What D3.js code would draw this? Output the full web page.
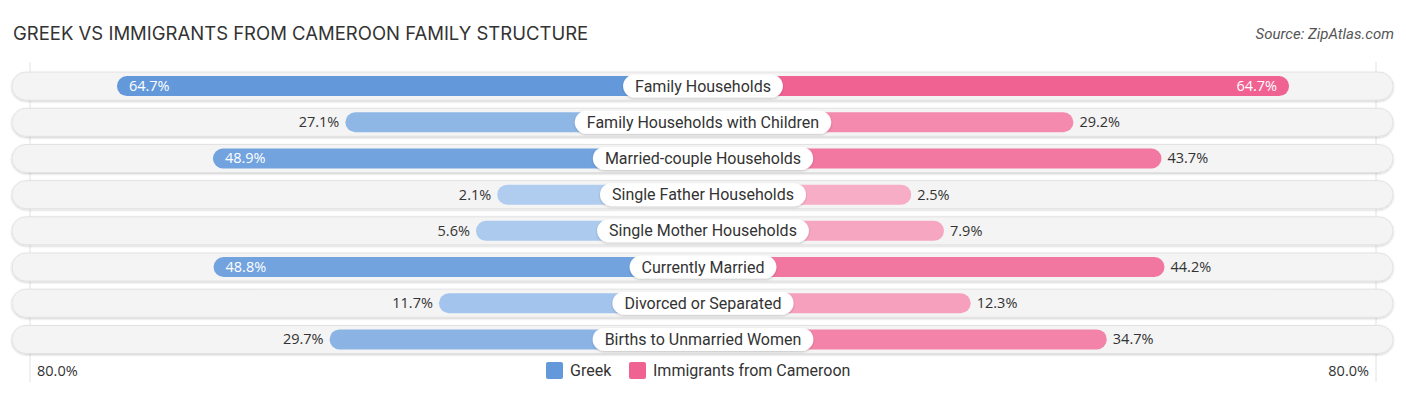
<!DOCTYPE html>
<html>
<head>
<meta charset="utf-8">
<script src="https://cdn.jsdelivr.net/npm/d3@7"></script>
<style>
  body { margin: 0; background: #fff; }
  svg { display: block; }
</style>
</head>
<body>
<script>
// data
var categories = [
  "Family Households",
  "Family Households with Children",
  "Married-couple Households",
  "Single Father Households",
  "Single Mother Households",
  "Currently Married",
  "Divorced or Separated",
  "Births to Unmarried Women"
];
var greek = [64.7, 27.1, 48.9, 2.1, 5.6, 48.8, 11.7, 29.7];
var cameroon = [64.7, 29.2, 43.7, 2.5, 7.9, 44.2, 12.3, 34.7];
var seriesNames = ["Greek", "Immigrants from Cameroon"];
var axisMax = 80;

var svgWidth = 1406;
var svgHeight = 395;
var cx = 703;

var svg = d3.select("body")
            .append("svg")
            .attr("width", svgWidth)
            .attr("height", svgHeight);

var defs = svg.append("defs");
var f = defs.append("filter").attr("id", "shadow")
    .attr("x", "-5%").attr("y", "-30%").attr("width", "110%").attr("height", "160%");
f.append("feDropShadow").attr("dx", 0).attr("dy", 1).attr("stdDeviation", 1)
    .attr("flood-color", "#000").attr("flood-opacity", 0.2);

// title + source
svg.append("text")
    .attr("x", 13).attr("y", 40)
    .attr("font-family", "Inter, 'Noto Sans', sans-serif")
    .attr("font-size", 18.5)
    .attr("font-weight", 400)
    .attr("fill", "#333")
    .text("GREEK VS IMMIGRANTS FROM CAMEROON FAMILY STRUCTURE");

svg.append("text")
    .attr("x", 1394).attr("y", 39)
    .attr("text-anchor", "end")
    .attr("font-family", "Roboto, sans-serif")
    .attr("font-style", "italic")
    .attr("font-size", 15)
    .attr("fill", "#555")
    .text("Source: ZipAtlas.com");

var yScale = d3.scaleBand()
    .domain(categories)
    .range([68, 357.5]);

// bar length from centre, bars start under the label
var xLen = d3.scaleLinear()
    .domain([0, axisMax])
    .range([193, 679]);

var blueColor = d3.scaleLinear().domain([0, 60]).range(["#b3cff0", "#6399da"]).clamp(true);
var pinkColor = d3.scaleLinear().domain([0, 60]).range(["#f8b0c8", "#f06292"]).clamp(true);

// faint axis lines
[30, 1376].forEach(function(x) {
  svg.append("line")
      .attr("x1", x).attr("x2", x)
      .attr("y1", 62).attr("y2", 382)
      .attr("stroke", "#e2e2e2").attr("stroke-width", 1);
});

var rowH = 28;
var barH = 20;

var rows = svg.selectAll("g.row")
    .data(categories)
    .enter()
    .append("g")
    .attr("class", "row")
    .attr("transform", d => `translate(0, ${yScale(d) + yScale.bandwidth() / 2})`);

rows.append("rect")
    .attr("x", 12).attr("y", -rowH / 2)
    .attr("width", 1381).attr("height", rowH)
    .attr("rx", rowH / 2)
    .attr("fill", "#f4f4f4")
    .attr("stroke", "#e3e3e3")
    .attr("stroke-width", 1)
    .attr("filter", "url(#shadow)");

rows.append("rect")
    .attr("x", (d, i) => cx - xLen(greek[i]))
    .attr("y", -barH / 2)
    .attr("width", (d, i) => xLen(greek[i]))
    .attr("height", barH)
    .attr("rx", barH / 2)
    .attr("fill", (d, i) => blueColor(greek[i]));

rows.append("rect")
    .attr("x", cx)
    .attr("y", -barH / 2)
    .attr("width", (d, i) => xLen(cameroon[i]))
    .attr("height", barH)
    .attr("rx", barH / 2)
    .attr("fill", (d, i) => pinkColor(cameroon[i]));

// value labels
var inside = 46;
rows.append("text")
    .attr("x", (d, i) => greek[i] > inside ? cx - xLen(greek[i]) + 12 : cx - xLen(greek[i]) - 6)
    .attr("y", 5)
    .attr("text-anchor", (d, i) => greek[i] > inside ? "start" : "end")
    .attr("font-family", "'Open Sans', sans-serif")
    .attr("font-size", 14.5)
    .attr("fill", (d, i) => greek[i] > inside ? "#fff" : "#333")
    .text((d, i) => greek[i].toFixed(1) + "%");

rows.append("text")
    .attr("x", (d, i) => cameroon[i] > inside ? cx + xLen(cameroon[i]) - 12 : cx + xLen(cameroon[i]) + 6)
    .attr("y", 5)
    .attr("text-anchor", (d, i) => cameroon[i] > inside ? "end" : "start")
    .attr("font-family", "'Open Sans', sans-serif")
    .attr("font-size", 14.5)
    .attr("fill", (d, i) => cameroon[i] > inside ? "#fff" : "#333")
    .text((d, i) => cameroon[i].toFixed(1) + "%");

// category pills
rows.each(function(d) {
  var g = d3.select(this);
  var t = g.append("text")
      .attr("x", cx).attr("y", 5.5)
      .attr("text-anchor", "middle")
      .attr("font-family", "Roboto, sans-serif")
      .attr("font-size", 16)
      .attr("fill", "#333")
      .text(d);
  var w = t.node().getComputedTextLength() + 24;
  g.insert("rect", "text")
      .attr("x", cx - w / 2).attr("y", -11.5)
      .attr("width", w).attr("height", 23)
      .attr("rx", 11.5)
      .attr("fill", "#fff")
      .attr("filter", "url(#shadow)");
});

// axis end labels
svg.append("text")
    .attr("x", 37).attr("y", 376)
    .attr("font-family", "'Open Sans', sans-serif")
    .attr("font-size", 14.5)
    .attr("fill", "#333")
    .text(axisMax.toFixed(1) + "%");

svg.append("text")
    .attr("x", 1369).attr("y", 376)
    .attr("text-anchor", "end")
    .attr("font-family", "'Open Sans', sans-serif")
    .attr("font-size", 14.5)
    .attr("fill", "#333")
    .text(axisMax.toFixed(1) + "%");

// legend
var legend = svg.append("g");
var lx = [546, 629];
var lcol = ["#6399da", "#f06292"];
seriesNames.forEach(function(name, i) {
  legend.append("rect")
      .attr("x", lx[i]).attr("y", 362)
      .attr("width", 17).attr("height", 17)
      .attr("rx", 2)
      .attr("fill", lcol[i]);
  legend.append("text")
      .attr("x", lx[i] + 24).attr("y", 376)
      .attr("font-family", "Roboto, sans-serif")
      .attr("font-size", 16)
      .attr("fill", "#333")
      .text(name);
});
</script>
</body>
</html>
